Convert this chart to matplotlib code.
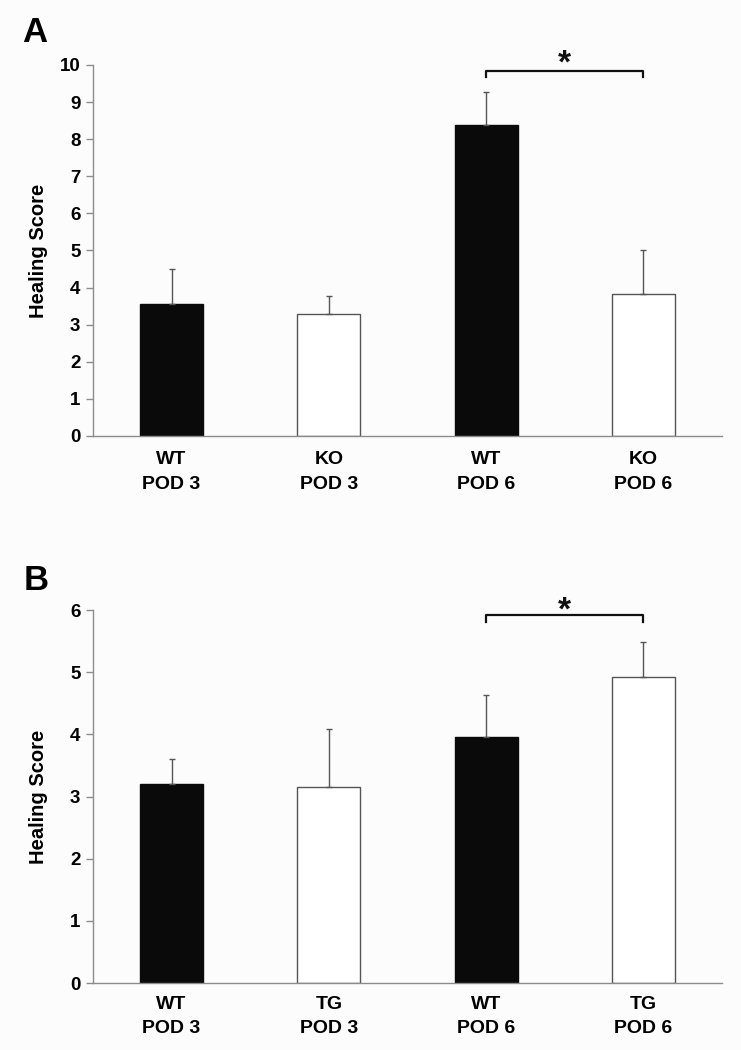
import matplotlib
matplotlib.use("Agg")
import matplotlib.pyplot as plt

# Panel A: WT vs KO
labels_a = ["WT\nPOD 3", "KO\nPOD 3", "WT\nPOD 6", "KO\nPOD 6"]
means_a = [3.57, 3.30, 8.37, 3.83]
errs_a = [0.92, 0.47, 0.91, 1.17]

# Panel B: WT vs TG
labels_b = ["WT\nPOD 3", "TG\nPOD 3", "WT\nPOD 6", "TG\nPOD 6"]
means_b = [3.20, 3.16, 3.95, 4.93]
errs_b = [0.40, 0.92, 0.68, 0.56]

fills = ["#0a0a0a", "white", "#0a0a0a", "white"]

BG = "#fcfcfc"
AXIS = "#8c8c8c"
EDGE = "#555555"

plt.rcParams.update({
    "font.family": ["Liberation Sans", "DejaVu Sans"],
    "font.weight": "bold",
})

fig = plt.figure(figsize=(7.41, 10.5), dpi=100, facecolor=BG)
ax_a = fig.add_axes([0.1255, 0.5848, 0.8489, 0.3533])
ax_b = fig.add_axes([0.1255, 0.0638, 0.8489, 0.3552])


def draw_panel(ax, labels, means, errs, ymax, bracket_y, tick_drop, star_y, pad):
    ax.set_facecolor(BG)
    x = list(range(len(means)))
    edges = [c if c != "white" else EDGE for c in fills]
    ax.bar(x, means, width=0.4, color=fills, edgecolor=edges, linewidth=1.0, zorder=2)
    ax.errorbar(x, means, yerr=[[0] * len(errs), errs], fmt="none",
                ecolor=EDGE, elinewidth=1.0, capsize=2.5, capthick=1.0, zorder=3)
    ax.set_xlim(-0.5, 3.5)
    ax.set_ylim(0, ymax)
    ax.set_yticks(range(0, ymax + 1))
    ax.set_xticks(x)
    ax.set_xticklabels(labels, fontsize=14, fontweight="bold", linespacing=1.6)
    ax.tick_params(axis="x", length=0, pad=pad)
    ax.tick_params(axis="y", length=5, width=1, color=AXIS, labelsize=13.5, pad=4)
    for t in ax.get_yticklabels():
        t.set_fontweight("bold")
    ax.set_ylabel("Healing Score", fontsize=14.5, fontweight="bold", va="center")
    ax.yaxis.set_label_coords(-0.087, 0.5)
    for s in ("top", "right"):
        ax.spines[s].set_visible(False)
    for s in ("left", "bottom"):
        ax.spines[s].set_color(AXIS)
        ax.spines[s].set_linewidth(1.0)

    # significance bracket between the POD 6 bars
    ax.plot([2, 2, 3, 3], [bracket_y - tick_drop, bracket_y, bracket_y, bracket_y - tick_drop],
            color="#111111", linewidth=1.6, clip_on=False, zorder=4)
    ax.text(2.5, star_y, "*", ha="center", va="center", fontsize=24,
            fontweight="bold", color="#111111")


draw_panel(ax_a, labels_a, means_a, errs_a, 10, 9.84, 0.17, 10.02, 11)
draw_panel(ax_b, labels_b, means_b, errs_b, 6, 5.92, 0.11, 5.98, 9)

fig.text(0.030, 0.969, "A", fontsize=25, fontweight="bold", ha="left", va="center")
fig.text(0.032, 0.4467, "B", fontsize=25, fontweight="bold", ha="left", va="center")

fig.savefig("out.png", dpi=100, facecolor=BG)
